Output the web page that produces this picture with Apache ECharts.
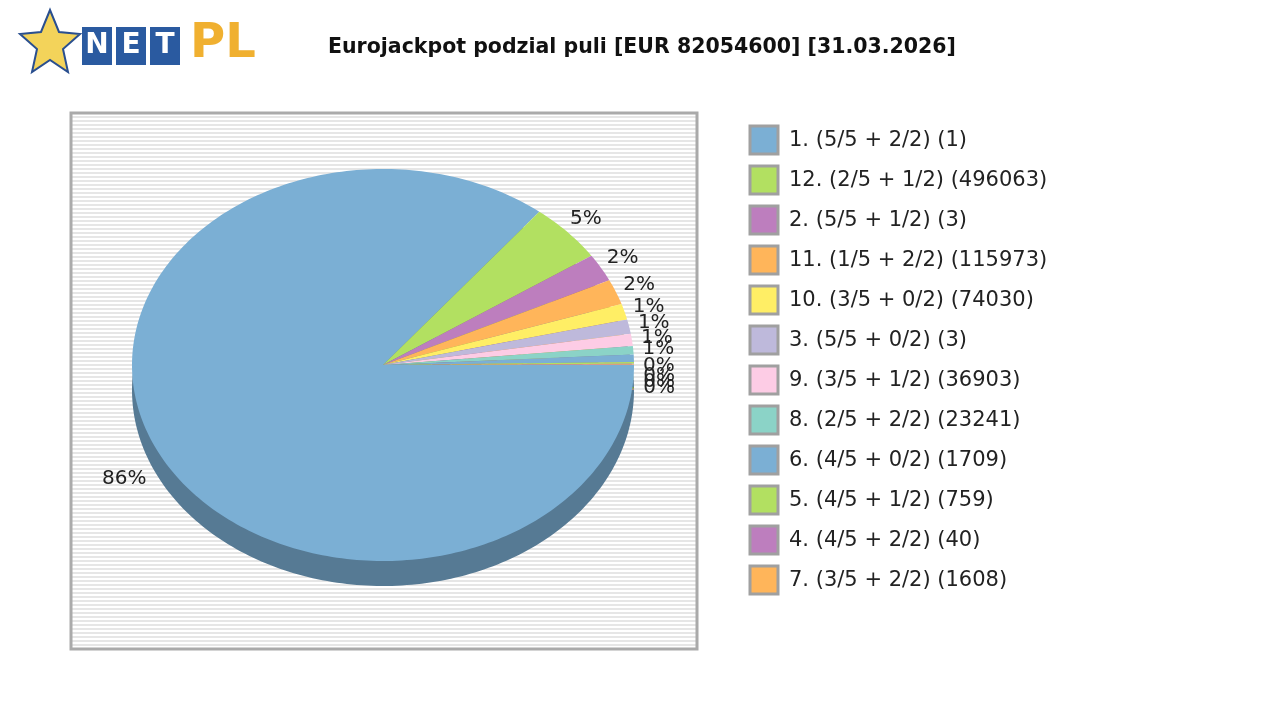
<!DOCTYPE html>
<html>
<head>
<meta charset="utf-8">
<title>Eurojackpot</title>
<script src="https://cdn.jsdelivr.net/npm/echarts@6/dist/echarts.min.js"></script>
</head>
<body style="margin:0">
<div id="main" style="width:1280px;height:720px;"></div>
<script>
var chart = echarts.init(document.getElementById('main'), null, {renderer: 'canvas'});

// pie data (share of pool, %)
var names = ['1. (5/5 + 2/2) (1)', '12. (2/5 + 1/2) (496063)', '2. (5/5 + 1/2) (3)', '11. (1/5 + 2/2) (115973)',
  '10. (3/5 + 0/2) (74030)', '3. (5/5 + 0/2) (3)', '9. (3/5 + 1/2) (36903)', '8. (2/5 + 2/2) (23241)',
  '6. (4/5 + 0/2) (1709)', '5. (4/5 + 1/2) (759)', '4. (4/5 + 2/2) (40)', '7. (3/5 + 2/2) (1608)'];
var values = [86.0, 4.9, 2.3, 2.1, 1.3, 1.2, 1.0, 0.7, 0.6, 0.15, 0.05, 0.05];
var labels = ['86%', '5%', '2%', '2%', '1%', '1%', '1%', '1%', '0%', '0%', '0%', '0%'];
var colors = ['#7bafd4', '#b2e061', '#bd7ebe', '#ffb55a', '#ffee65', '#beb9db', '#fdcce5', '#8bd3c7',
  '#7bafd4', '#b2e061', '#bd7ebe', '#ffb55a'];

var cx = 383, cy = 365, rx = 251, ry = 196, depth = 25;
var total = values.reduce(function (a, b) { return a + b; }, 0);
var slices = [];
var acc = 0;
values.forEach(function (v, i) {
  slices.push([acc / total * 2 * Math.PI, (acc + v) / total * 2 * Math.PI, i]);
  acc += v;
});

function darker(c) {
  var n = parseInt(c.slice(1), 16);
  var r = Math.round(((n >> 16) & 255) * 0.7), g = Math.round(((n >> 8) & 255) * 0.7), b = Math.round((n & 255) * 0.7);
  return 'rgb(' + r + ',' + g + ',' + b + ')';
}
function slicePoints(a0, a1, dy) {
  var pts = [[cx, cy + dy]];
  var n = Math.max(2, Math.ceil((a1 - a0) / 0.02));
  for (var k = 0; k <= n; k++) {
    var a = a0 + (a1 - a0) * k / n;
    pts.push([cx + Math.cos(a) * rx, cy + dy + Math.sin(a) * ry]);
  }
  return pts;
}
function makeSeries(dy, dark, withLabel) {
  return {
    type: 'custom', coordinateSystem: 'none', silent: true, data: slices,
    renderItem: function (params, api) {
      var a0 = api.value(0), a1 = api.value(1), i = api.value(2);
      var children = [{
        type: 'polygon', shape: {points: slicePoints(a0, a1, dy)},
        style: {fill: dark ? darker(colors[i]) : colors[i]}
      }];
      if (withLabel) {
        var m = (a0 + a1) / 2;
        children.push({
          type: 'text',
          style: {
            text: labels[i], x: cx + Math.cos(m) * rx * 1.1 - (i === 0 ? 10 : 0), y: cy + Math.sin(m) * ry * 1.1 + (i === 0 ? 20 : 0) + (i > 7 ? (i - 8) * 5 + 8 : 0),
            align: 'center', verticalAlign: 'middle', fill: '#222', font: '20px "DejaVu Sans"'
          }
        });
      }
      return {type: 'group', children: children};
    }
  };
}

// striped plot background
var pc = document.createElement('canvas');
pc.width = 4; pc.height = 4;
var ctx = pc.getContext('2d');
ctx.fillStyle = '#ffffff'; ctx.fillRect(0, 0, 4, 4);
ctx.fillStyle = '#e6e6e6'; ctx.fillRect(0, 0, 4, 2);

var graphics = [
  {type: 'rect', shape: {x: 71, y: 113, width: 626, height: 536}, style: {fill: {image: pc, repeat: 'repeat'}, stroke: '#aaaaaa', lineWidth: 3}, z: -10},
  {type: 'text', style: {text: 'Eurojackpot podzial puli [EUR 82054600] [31.03.2026]', x: 642, y: 48, align: 'center', verticalAlign: 'middle', font: 'bold 20.5px "DejaVu Sans"', fill: '#111'}},
  {type: 'polygon', shape: {points: [[50, 10], [59, 32], [80, 34], [63, 49], [68, 72], [50, 60], [32, 72], [37, 49], [20, 34], [41, 32]]}, style: {fill: '#f3d35a', stroke: '#2a4f8f', lineWidth: 2}},
  {type: 'text', style: {text: 'PL', x: 190, y: 45, verticalAlign: 'middle', font: 'bold 48px "DejaVu Sans"', fill: '#f0b030'}}
];
['N', 'E', 'T'].forEach(function (t, k) {
  graphics.push({type: 'rect', shape: {x: 82 + k * 34, y: 27, width: 30, height: 38}, style: {fill: '#2a5aa0'}});
  graphics.push({type: 'text', style: {text: t, x: 97 + k * 34, y: 46, align: 'center', verticalAlign: 'middle', font: 'bold 28px "DejaVu Sans"', fill: '#fff'}});
});
names.forEach(function (n, i) {
  var y = 140 + i * 40;
  graphics.push({type: 'rect', shape: {x: 750, y: y - 14, width: 28, height: 28}, style: {fill: colors[i], stroke: '#a0a0a0', lineWidth: 3}});
  graphics.push({type: 'text', style: {text: n, x: 789, y: y + 1, verticalAlign: 'middle', font: '21px "DejaVu Sans"', fill: '#222'}});
});

option = {
  backgroundColor: '#ffffff',
  animation: false,
  graphic: graphics,
  series: [makeSeries(depth, true, false), makeSeries(0, false, true)]
};
chart.setOption(option);
</script>
</body>
</html>
